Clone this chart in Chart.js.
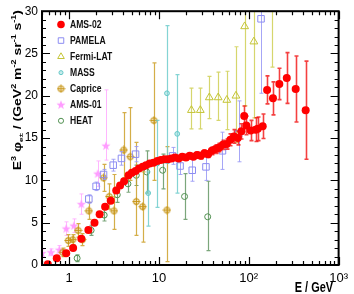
<!DOCTYPE html>
<html>
<head>
<meta charset="utf-8">
<script src="https://cdn.jsdelivr.net/npm/chart.js@4/dist/chart.umd.min.js"></script>
<style>
  html, body { margin: 0; padding: 0; background: #fff; }
  #wrap { width: 354px; height: 294px; position: relative; }
</style>
</head>
<body>
<div id="wrap"><canvas id="c"></canvas></div>
<script>
// ---- data (E in GeV, E^3 flux, lower / upper errors) ----
const amsE = [0.58,0.73,0.93,1.11,1.37,1.64,1.92,2.19,2.52,2.91,3.35,3.7,4.1,4.6,5.0,5.5,6.0,6.6,7.2,7.9,8.7,9.6,10.5,11.5,12.6,13.8,15.1,16.6,18.2,20.0,22.0,24.2,26.6,29.2,32.1,35.3,38.8,42.7,46.9,51.6,56.7,62.4,68.6,75.4,82.9,89,94,105,119,126,143,160,186,219,265,333,430];
const amsY = [0.1,0.8,1.4,2.0,3.1,4.15,5.0,6.0,6.9,7.6,8.8,9.4,9.9,10.6,10.9,11.1,11.4,11.6,11.8,12.0,12.1,12.3,12.4,12.5,12.5,12.6,12.7,12.6,12.8,12.7,12.9,12.8,13.0,12.9,13.2,13.1,13.5,13.7,13.9,14.2,14.3,14.8,15.2,15.0,15.8,17.6,16.5,15.9,16.0,16.1,16.4,20.7,19.7,21.4,22.1,20.8,18.3];
const amsErr = [0.1,0.1,0.1,0.1,0.1,0.1,0.1,0.1,0.1,0.1,0.1,0.1,0.1,0.1,0.1,0.1,0.1,0.1,0.1,0.1,0.1,
  0.2,0.2,0.2,0.2,0.2,0.2,0.2,0.2,
  0.3,0.3,0.3,0.35,0.35,0.4,0.4,0.45,0.5,0.5,0.55,0.6,0.7,0.8,0.8,0.9,1.2,1.1,1.2,1.4,1.4,1.45,1.65,1.95,1.85,3.0,3.9,5.8];

const pamE  = [1.66,2.0,2.42,3.1,3.83,5.5,14.2,17.2,23.5,33.4,51,77,137];
const pamY  = [7.8,9.3,10.7,11.8,12.6,13.1,12.9,11.7,11.2,11.6,13.5,15.5,29.1];
const pamLo = [0.5,0.5,0.6,0.7,0.8,0.9,1.0,1.0,1.3,1.6,2.2,3.3,8.8];
const pamHi = [0.5,0.5,0.6,0.7,0.8,0.9,1.0,1.0,1.3,1.6,2.2,3.9,8.0];

const fermiE  = [23,28.9,36.4,45.7,57,72,90,114,181];
const fermiY  = [18.3,18.3,19.8,19.8,19.5,20.0,28.2,26.4,33];
const fermiLo = [2.2,2.2,2.5,2.7,3.5,5.5,9.4,9.0,9.6];
const fermiHi = [2.6,2.6,2.5,3.0,3.4,5.8,8,8,8];

const massE  = [7.6,9.6,12.3,16];
const massY  = [8.5,12.0,20.3,15.5];
const massLo = [3.9,5.2,8.3,7.0];
const massHi = [2.5,5.1,8.0,7.0];

const capE  = [0.85,0.98,1.1,1.26,1.41,1.66,2.42,2.8,3.16,4.06,4.8,5.6,6.6,8.8,12.3];
const capY  = [1.5,2.9,3.0,4.1,3.0,6.4,10.3,8.1,6.4,13.6,12.8,7.5,6.9,17.1,6.5];
const capLo = [0.5,0.7,0.6,0.8,0.7,1.0,1.6,1.5,2.2,3.3,2.8,4.0,4.2,7.1,6.1];
const capHi = [0.5,0.7,0.6,0.8,0.7,1.0,1.6,1.5,4.3,4.4,5.8,7.0,4.1,6.8,7.5];

const a01E  = [0.5,0.63,0.78,0.93,1.13,1.37,2.08,2.57];
const a01Y  = [1.4,1.5,1.8,4.3,4.65,7.2,10.8,14.1];
const a01Lo = [0.4,0.4,0.5,0.8,0.8,1.2,1.5,1.7];
const a01Hi = [0.4,0.4,0.5,0.8,0.8,1.2,1.5,6.6];

const heatE  = [1.23,1.76,2.46,3.44,4.52,5.6,7.3,11,19.3,34.9];
const heatY  = [0.8,4.1,5.9,8.3,9.6,10.6,11.0,11.2,8.1,5.7];
const heatLo = [0.4,0.6,0.7,0.9,1.0,1.2,2.5,2.2,2.7,4.0];
const heatHi = [0.4,0.6,0.7,0.9,1.0,1.2,2.5,1.9,2.7,4.2];

const xTickVals   = [1, 10, 100, 1000];
const xTickLabels = ['1', '10', '10\u00B2', '10\u00B3'];
const yTickVals   = [0, 5, 10, 15, 20, 25, 30];

const FONT = '"Liberation Sans", Arial, sans-serif';

// ---- custom markers ----
function capriceIcon() {
  const c = document.createElement('canvas'); c.width = 9; c.height = 9;
  const g = c.getContext('2d');
  g.strokeStyle = '#c89618'; g.lineWidth = 1.1;
  g.beginPath(); g.arc(4.5, 4.5, 2.8, 0, Math.PI * 2); g.stroke();
  g.beginPath(); g.moveTo(4.5, 0.5); g.lineTo(4.5, 8.5); g.moveTo(0.5, 4.5); g.lineTo(8.5, 4.5); g.stroke();
  return c;
}
function starIcon() {
  const c = document.createElement('canvas'); c.width = 10; c.height = 10;
  const g = c.getContext('2d');
  g.fillStyle = '#ff9cff';
  g.beginPath();
  for (let i = 0; i < 10; i++) {
    const r = i % 2 ? 2 : 4.8, a = -Math.PI / 2 + i * Math.PI / 5;
    g.lineTo(5 + r * Math.cos(a), 5.3 + r * Math.sin(a));
  }
  g.closePath(); g.fill();
  return c;
}
const capImg = capriceIcon();
const starImg = starIcon();

const pts = (E, Y) => E.map((x, i) => ({ x, y: Y[i] }));

const datasets = [
  { label: 'AMS-02', data: pts(amsE, amsY), errLo: amsErr, errHi: amsErr,
    pointStyle: 'circle', pointRadius: 4, backgroundColor: '#ff0000', borderColor: '#ff0000', borderWidth: 0,
    barColor: 'rgba(240,0,0,0.75)', barWidth: 1.6 },
  { label: 'PAMELA', data: pts(pamE, pamY), errLo: pamLo, errHi: pamHi,
    pointStyle: 'rect', pointRadius: 4.6, backgroundColor: 'rgba(0,0,0,0)', borderColor: '#8c8cf2', borderWidth: 1,
    barColor: 'rgba(150,150,245,0.85)', barWidth: 1 },
  { label: 'Fermi-LAT', data: pts(fermiE, fermiY), errLo: fermiLo, errHi: fermiHi,
    pointStyle: 'triangle', pointRadius: 4.5, backgroundColor: 'rgba(0,0,0,0)', borderColor: '#c4c436', borderWidth: 1,
    barColor: 'rgba(200,200,60,0.75)', barWidth: 1.2 },
  { label: 'MASS', data: pts(massE, massY), errLo: massLo, errHi: massHi,
    pointStyle: 'circle', pointRadius: 2.4, backgroundColor: 'rgba(140,215,215,0.5)', borderColor: '#66c8c8', borderWidth: 1,
    barColor: 'rgba(110,205,205,0.85)', barWidth: 1.2 },
  { label: 'Caprice', data: pts(capE, capY), errLo: capLo, errHi: capHi,
    pointStyle: capImg, pointRadius: 4, backgroundColor: '#c89618', borderColor: '#c89618', borderWidth: 1,
    barColor: 'rgba(205,160,40,0.85)', barWidth: 1.2 },
  { label: 'AMS-01', data: pts(a01E, a01Y), errLo: a01Lo, errHi: a01Hi,
    pointStyle: starImg, pointRadius: 4, backgroundColor: '#ff9cff', borderColor: '#ff9cff', borderWidth: 0,
    barColor: 'rgba(255,170,255,0.85)', barWidth: 1 },
  { label: 'HEAT', data: pts(heatE, heatY), errLo: heatLo, errHi: heatHi,
    pointStyle: 'circle', pointRadius: 3, backgroundColor: 'rgba(0,0,0,0)', borderColor: '#4f8f4f', borderWidth: 1,
    barColor: 'rgba(100,150,100,0.85)', barWidth: 1.2 }
];

// error bars, drawn just before each dataset's markers
const errorBars = {
  id: 'errorBars',
  beforeDatasetDraw(chart, args) {
    const ds = chart.data.datasets[args.index];
    if (!ds.errLo) return;
    const { ctx, chartArea: a, scales: { x, y } } = chart;
    ctx.save();
    ctx.beginPath(); ctx.rect(a.left, a.top, a.right - a.left, a.bottom - a.top); ctx.clip();
    ctx.strokeStyle = ds.barColor; ctx.lineWidth = ds.barWidth;
    ds.data.forEach((p, i) => {
      const px = Math.round(x.getPixelForValue(p.x)) + 0.5;
      const y1 = y.getPixelForValue(p.y - ds.errLo[i]);
      const y2 = y.getPixelForValue(p.y + ds.errHi[i]);
      ctx.beginPath();
      ctx.moveTo(px, y1); ctx.lineTo(px, y2);
      ctx.moveTo(px - 2, y1); ctx.lineTo(px + 2, y1);
      ctx.moveTo(px - 2, y2); ctx.lineTo(px + 2, y2);
      ctx.stroke();
    });
    ctx.restore();
  }
};

// frame with inward ticks on all four sides, titles and legend
const frame = {
  id: 'frame',
  afterDatasetsDraw(chart) {
    const { ctx, chartArea: a, scales: { x, y } } = chart;
    ctx.save();
    ctx.strokeStyle = '#000';
    ctx.lineWidth = 1.2;
    ctx.beginPath();
    for (let d = -1; d <= 3; d++) {
      for (let k = 1; k <= 9; k++) {
        const v = k * Math.pow(10, d);
        if (v < x.min || v > x.max) continue;
        const px = Math.round(x.getPixelForValue(v)) + 0.5;
        const len = k === 1 ? 8 : 4;
        ctx.moveTo(px, a.bottom); ctx.lineTo(px, a.bottom - len);
        ctx.moveTo(px, a.top); ctx.lineTo(px, a.top + len);
      }
    }
    for (let v = 0; v <= 30; v++) {
      const py = Math.round(y.getPixelForValue(v)) + 0.5;
      const len = v % 5 === 0 ? 8 : 4;
      ctx.moveTo(a.left, py); ctx.lineTo(a.left + len, py);
      ctx.moveTo(a.right, py); ctx.lineTo(a.right - len, py);
    }
    ctx.stroke();
    ctx.lineWidth = 2;
    ctx.strokeRect(a.left, a.top, a.right - a.left, a.bottom - a.top);
    ctx.restore();
  },
  afterDraw(chart) {
    const { ctx } = chart;
    ctx.save();
    ctx.fillStyle = '#000';
    // x title
    ctx.save();
    ctx.translate(333, 292);
    ctx.scale(0.78, 1);
    ctx.font = 'bold 14px ' + FONT;
    ctx.textAlign = 'right';
    ctx.textBaseline = 'alphabetic';
    ctx.fillText('E / GeV', 0, 0);
    ctx.restore();

    // y title with super/subscripts
    const parts = [
      ['E', 14, 0], ['3', 9, -7], [' \u03C6', 14, 0], ['e\u00B1', 8, 3],
      [' / (GeV', 14, 0], ['2', 9, -7], [' m', 14, 0], ['-2', 9, -7],
      [' sr', 14, 0], ['-1', 9, -7], [' s', 14, 0], ['-1', 9, -7], [')', 14, 0]
    ];
    let total = 0;
    parts.forEach(p => { ctx.font = 'bold ' + p[1] + 'px ' + FONT; total += ctx.measureText(p[0]).width; });
    ctx.save();
    ctx.translate(21, 10 + total);
    ctx.scale(0.78, 1);
    ctx.rotate(-Math.PI / 2);
    ctx.textBaseline = 'alphabetic';
    let cx = 0;
    parts.forEach(p => {
      ctx.font = 'bold ' + p[1] + 'px ' + FONT;
      ctx.fillText(p[0], cx, p[2]);
      cx += ctx.measureText(p[0]).width;
    });
    ctx.restore();

    // legend
    const lx = 61, ly = 24.5, step = 16.05;
    chart.data.datasets.forEach((ds, i) => {
      const yy = ly + i * step;
      ctx.save();
      ctx.fillStyle = ds.backgroundColor;
      ctx.strokeStyle = ds.borderColor;
      ctx.lineWidth = ds.borderWidth;
      const r = ds.label === 'AMS-02' ? 3.8 : ds.pointRadius * 0.85;
      Chart.helpers.drawPoint(ctx, { pointStyle: ds.pointStyle, radius: r, borderWidth: ds.borderWidth, rotation: 0 }, lx, yy);
      ctx.restore();
      ctx.save();
      ctx.translate(70, yy);
      ctx.scale(0.78, 1);
      ctx.fillStyle = '#111';
      ctx.font = 'bold 11px ' + FONT;
      ctx.textBaseline = 'middle';
      ctx.fillText(ds.label, 0, 0.5);
      ctx.restore();
    });
    ctx.restore();
  }
};

new Chart(document.getElementById('c'), {
  type: 'scatter',
  data: { datasets },
  options: {
    responsive: true,
    maintainAspectRatio: false,
    animation: false,
    devicePixelRatio: 1,
    layout: { padding: { top: 7, right: 9, left: 0, bottom: 0 } },
    plugins: { legend: { display: false }, tooltip: { enabled: false } },
    scales: {
      x: {
        type: 'logarithmic', min: 0.5, max: 1000,
        grid: { display: false, drawTicks: false, tickLength: 0 }, border: { display: false },
        afterBuildTicks: s => { s.ticks = xTickVals.map(v => ({ value: v, major: true })); },
        afterFit: s => { s.height = 29; },
        ticks: {
          autoSkip: false, maxRotation: 0, padding: 6, color: '#000',
          font: { family: FONT, size: 13 },
          callback: v => xTickLabels[xTickVals.indexOf(v)] ?? ''
        }
      },
      y: {
        min: 0, max: 30,
        grid: { display: false, drawTicks: false, tickLength: 0 }, border: { display: false },
        afterBuildTicks: s => { s.ticks = yTickVals.map(v => ({ value: v })); },
        afterFit: s => { s.width = 42; },
        ticks: {
          padding: 4, color: '#000',
          font: { family: FONT, size: 12 }
        }
      }
    }
  },
  plugins: [errorBars, frame]
});
</script>
</body>
</html>
